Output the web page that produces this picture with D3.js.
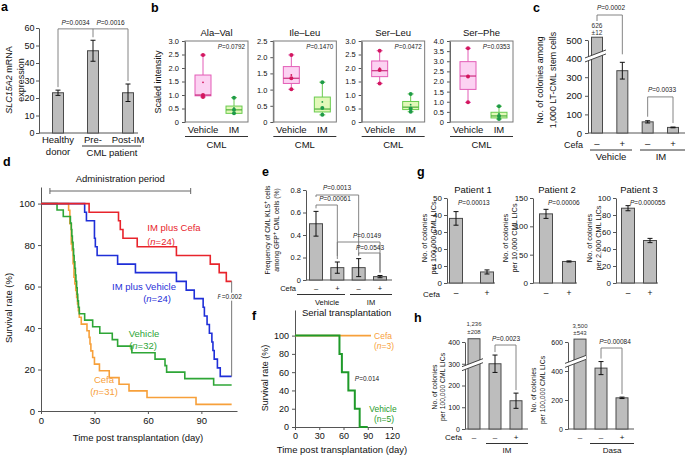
<!DOCTYPE html>
<html>
<head>
<meta charset="utf-8">
<script src="https://cdn.jsdelivr.net/npm/d3@7"></script>
<style>
  body { margin: 0; background: #fff; }
  svg { display: block; }
</style>
</head>
<body>
<div id="chart"></div>
<script>
/* a: SLC15A2 mRNA */
const A_MEAN = [23, 47, 23];
const A_ERR = [1.5, 6, 5];
const A_P = ["0.0034", "0.0016"];

/* b: dipeptide box plots  [min, q1, median, q3, max] */
const B_TITLES = ["Ala–Val", "Ile–Leu", "Ser–Leu", "Ser–Phe"];
const B_YMAX = [3, 2.5, 3, 4];
const B_P = ["0.0792", "0.1470", "0.0472", "0.0353"];
const B_VEH_BOX = [[0.93, 0.97, 1.0, 1.74, 2.48], [1.01, 1.19, 1.35, 1.71, 2.07], [1.43, 1.68, 1.9, 2.26, 2.64], [0.97, 1.61, 2.27, 2.98, 3.64]];
const B_IM_BOX = [[0.32, 0.32, 0.45, 0.59, 0.9], [0.22, 0.31, 0.4, 0.77, 1.23], [0.38, 0.46, 0.55, 0.76, 1.04], [0.15, 0.2, 0.3, 0.48, 0.78]];
const B_VEH_PTS = [[2.48, 1.0, 0.93], [2.07, 1.35, 1.01], [2.64, 1.93, 1.43], [3.64, 2.25, 0.97]];
const B_IM_PTS = [[0.9, 0.45, 0.32], [1.23, 0.43, 0.22], [1.04, 0.5, 0.38], [0.78, 0.3, 0.15]];
const B_VEH_MEAN = [1.47, 1.45, 1.99, 2.29];
const B_IM_MEAN = [0.52, 0.62, 0.64, 0.41];

/* c: colonies among LT-CML stem cells */
const C_MEAN = [626, 335, 60, 30];
const C_ERR = [12, 45, 6, 2];
const C_CEFA = ["–", "+", "–", "+"];
const C_P = ["0.0002", "0.0033"];

/* d: survival (day, %) */
const D_IM_CEFA = [[0, 100], [27, 95.8], [43.5, 91.7], [44.5, 87.5], [46, 83.3], [54, 79.2], [76, 75], [95, 70.8], [100, 66.7], [104, 62.5], [107, 62.5]];
const D_IM_VEH = [[0, 100], [24.5, 95.8], [25.5, 91.7], [30, 83.3], [30.5, 79.2], [31.5, 75], [43, 70.8], [53, 66.7], [76, 62.5], [81.5, 58.3], [86, 54.2], [91, 50], [91.7, 45.8], [93.2, 41.7], [94.5, 37.5], [95.9, 33.3], [96.5, 29.2], [97.2, 25], [99, 20.8], [100.6, 16.7], [107, 16.7]];
const D_VEH = [[0, 100], [9, 96.9], [12.5, 93.8], [16.5, 90.6], [17, 87.5], [17.3, 84.4], [17.6, 81.3], [18, 78.1], [18.3, 75], [18.6, 71.9], [19, 68.8], [19.3, 65.6], [19.6, 62.5], [20, 59.4], [20.3, 56.3], [20.6, 53.1], [21, 50], [21.5, 46.9], [24.5, 43.8], [29, 40.6], [33, 37.5], [40, 34.4], [43, 31.3], [51, 28.1], [64, 25], [69.6, 21.9], [70.5, 18.75], [80.7, 15.6], [96.9, 12.5], [107, 12.5]];
const D_CEFA = [[0, 100], [15.5, 96.8], [16.2, 90.3], [17, 80.6], [17.5, 77.4], [18, 71], [18.5, 64.5], [19, 61.3], [19.5, 58.1], [20, 54.8], [20.5, 51.6], [21, 48.4], [21.5, 45.2], [22.6, 41.9], [25.8, 38.7], [27, 35.5], [27.5, 32.3], [28, 29], [29, 25.8], [30, 22.6], [32.8, 19.4], [38.3, 16.1], [43.8, 12.9], [49.4, 9.7], [59.5, 6.5], [87, 3.2], [107, 3.2]];
const D_ADMIN = [5, 84];

/* e: KLS+ frequency */
const E_MEAN = [0.5, 0.11, 0.11, 0.03];
const E_ERR = [0.11, 0.05, 0.08, 0.01];
const E_CEFA = ["–", "+", "–", "+"];
const E_P = ["0.0013", "0.00061", "0.0149", "0.0543"];

/* f: serial transplantation */
const F_CEFA = [[0, 100], [94, 100]];
const F_VEH = [[0, 100], [55, 80], [58, 60], [66, 40], [74, 20], [80, 0], [90, 0]];

/* g: patients */
const G_TITLES = ["Patient 1", "Patient 2", "Patient 3"];
const G_MEAN = [[38, 6.5], [122, 38], [88, 50]];
const G_ERR = [[4, 1.2], [8, 1], [3, 2.5]];
const G_YMAX = [50, 150, 100];
const G_STEP = [10, 50, 20];
const G_P = ["0.00013", "0.00006", "0.000055"];
const G_YLAB = ["per 100,000 CML LICs", "per 10,000 CML LICs", "per 2,000 CML LICs"];

/* h: IM / Dasa */
const H_IM_MEAN = [1236, 300, 130];
const H_IM_ERR = [208, 40, 35];
const H_DASA_MEAN = [3500, 420, 215];
const H_DASA_ERR = [543, 45, 5];
const H_CEFA = ["–", "–", "+"];
const H_P = ["0.0023", "0.00084"];

const FONT = "'Liberation Sans', Arial, Helvetica, sans-serif";
const BAR = "#bdbdbd", EDGE = "#4a4a4a", AXC = "#555", BRK = "#777";
const VEH_C = { fill: "#fcd2f2", stroke: "#e35db7", line: "#cc2f7f", pt: "#d3175e" };
const IM_C = { fill: "#e2f8b9", stroke: "#6acb4f", line: "#4caf3a", pt: "#1e9a48" };

const svg = d3.select("#chart").append("svg")
  .attr("width", 685).attr("height", 456).attr("font-family", FONT);

function txt(x, y, s, size, o = {}) {
  const t = svg.append("text").attr("x", x).attr("y", y).attr("font-size", size)
    .attr("text-anchor", o.anchor || "middle").attr("fill", o.fill || "#111").text(s);
  if (o.bold) t.attr("font-weight", "bold");
  if (o.italic) t.attr("font-style", "italic");
  if (o.rot) t.attr("transform", `rotate(-90,${x},${y})`);
  return t;
}
function pTxt(x, y, val, size, anchor) {
  const t = svg.append("text").attr("x", x).attr("y", y).attr("font-size", size)
    .attr("text-anchor", anchor || "middle").attr("fill", "#222");
  t.append("tspan").attr("font-style", "italic").text("P");
  t.append("tspan").text("=" + val);
  return t;
}
function nTxt(x, y, n, size, fill) {
  const t = svg.append("text").attr("x", x).attr("y", y).attr("font-size", size)
    .attr("text-anchor", "middle").attr("fill", fill);
  t.append("tspan").text("(");
  t.append("tspan").attr("font-style", "italic").text("n");
  t.append("tspan").text("=" + n + ")");
}
function label(x, y, s) { txt(x, y, s, 12.5, { anchor: "start", bold: true, fill: "#000" }); }
function axisL(x, scale, vals, size, fmt, pad) {
  const g = svg.append("g").attr("transform", `translate(${x},0)`)
    .call(d3.axisLeft(scale).tickValues(vals).tickSize(3).tickSizeOuter(0)
      .tickPadding(pad == null ? 3 : pad).tickFormat(fmt || (d => d)));
  g.attr("font-family", FONT).attr("font-size", size);
  g.selectAll("text").attr("fill", "#111");
  g.selectAll("path, line").attr("stroke", AXC);
  return g;
}
function axisB(y, scale, vals, size) {
  const g = svg.append("g").attr("transform", `translate(0,${y})`)
    .call(d3.axisBottom(scale).tickValues(vals).tickSize(3).tickSizeOuter(0));
  g.attr("font-family", FONT).attr("font-size", size);
  g.selectAll("text").attr("fill", "#111");
  g.selectAll("path, line").attr("stroke", AXC);
  return g;
}
function seg(x1, y1, x2, y2, c, w) {
  svg.append("line").attr("x1", x1).attr("y1", y1).attr("x2", x2).attr("y2", y2)
    .attr("stroke", c || AXC).attr("stroke-width", w || 1);
}
function bars(xs, y, means, errs, w, clampAt) {
  means.forEach((m, i) => {
    const top = y(clampAt != null ? Math.min(m, clampAt) : m);
    svg.append("rect").attr("x", xs(i) - w / 2).attr("y", top).attr("width", w)
      .attr("height", y(0) - top).attr("fill", BAR).attr("stroke", EDGE).attr("stroke-width", 1);
    if (clampAt != null && m > clampAt) return;
    const e = errs[i], cx = xs(i);
    seg(cx, y(m - e), cx, y(m + e), "#111", 1);
    seg(cx - 2.5, y(m - e), cx + 2.5, y(m - e), "#111", 1);
    seg(cx - 2.5, y(m + e), cx + 2.5, y(m + e), "#111", 1);
  });
}
function bracket(x1, x2, yTop, y1End, y2End) {
  svg.append("path").attr("d", `M${x1},${y1End}V${yTop}H${x2}V${y2End}`)
    .attr("fill", "none").attr("stroke", BRK).attr("stroke-width", 0.9);
}
function breakMark(x0, x1, yc) {
  svg.append("path").attr("d", `M${x0},${yc + 4}L${x1},${yc - 4}L${x1},${yc}L${x0},${yc + 8}Z`)
    .attr("fill", "#fff");
  seg(x0, yc + 4, x1, yc - 4, "#333", 0.9);
  seg(x0, yc + 8, x1, yc, "#333", 0.9);
}
function cefaRow(xs, marks, y, size) {
  marks.forEach((s, i) => txt(xs(i), y, s, size));
}

/* ---------------- a ---------------- */
label(1, 11, "a");
{
  const y = d3.scaleLinear().domain([0, 60]).range([133, 28]);
  const x = d3.scalePoint().domain(d3.range(3)).range([58, 128]);
  axisL(39, y, d3.range(0, 61, 10), 9, null, 1.5);
  seg(39, 133, 138, 133, AXC);
  bars(x, y, A_MEAN, A_ERR, 11);
  const top = y(59.5);
  bracket(x(0), x(1), top, y(A_MEAN[0] + A_ERR[0]) - 3, y(A_MEAN[1] + A_ERR[1]) - 3);
  bracket(x(1), x(2), top, top, y(A_MEAN[2] + A_ERR[2]) - 3);
  pTxt((x(0) + x(1)) / 2, top - 4, A_P[0], 6.5);
  pTxt((x(1) + x(2)) / 2, top - 4, A_P[1], 6.5);
  txt(x(0), 143, "Healthy", 9.5); txt(x(0), 155, "donor", 9.5);
  txt(x(1), 143, "Pre-", 9.5); txt(x(2), 143, "Post-IM", 9.5);
  seg(82, 146, 141, 146, "#333");
  txt(112, 156, "CML patient", 9.5);
  const yl = svg.append("text").attr("x", 11.5).attr("y", 80).attr("font-size", 9)
    .attr("text-anchor", "middle").attr("transform", "rotate(-90,11.5,80)").attr("fill", "#111");
  yl.append("tspan").attr("font-style", "italic").text("SLC15A2");
  yl.append("tspan").text(" mRNA");
  txt(23.5, 80, "expression", 9, { rot: true });
}

/* ---------------- b ---------------- */
label(151, 12, "b");
{
  const left = d3.scalePoint().domain(d3.range(4)).range([185, 450]);
  const fw = 63;
  txt(161, 82, "Scaled intensity", 9, { rot: true });
  B_TITLES.forEach((title, i) => {
    const fx = left(i);
    const y = d3.scaleLinear().domain([0, B_YMAX[i]]).range([122, 41]);
    const gx = d3.scalePoint().domain(["Vehicle", "IM"]).range([fx + 18, fx + 49]);
    axisL(fx, y, d3.range(0, B_YMAX[i] + 0.01, 0.5), 7.5, d => d === 0 ? "0" : d.toFixed(1));
    svg.append("rect").attr("x", fx).attr("y", 41).attr("width", fw).attr("height", 81)
      .attr("fill", "none").attr("stroke", "#7a7a7a").attr("stroke-width", 1);
    [["Vehicle", B_VEH_BOX[i], B_VEH_PTS[i], B_VEH_MEAN[i], VEH_C],
     ["IM", B_IM_BOX[i], B_IM_PTS[i], B_IM_MEAN[i], IM_C]].forEach(([k, box, pts, mean, c]) => {
      const cx = gx(k), bw = 16;
      const [mn, q1, md, q3, mx] = box;
      seg(cx, y(mn), cx, y(mx), c.stroke, 1);
      seg(cx - 3, y(mx), cx + 3, y(mx), c.stroke, 1);
      seg(cx - 3, y(mn), cx + 3, y(mn), c.stroke, 1);
      svg.append("rect").attr("x", cx - bw / 2).attr("y", y(q3)).attr("width", bw)
        .attr("height", Math.max(1, y(q1) - y(q3))).attr("fill", c.fill).attr("stroke", c.stroke).attr("stroke-width", 1);
      seg(cx - bw / 2, y(md), cx + bw / 2, y(md), c.line, 1.2);
      pts.forEach(v => svg.append("circle").attr("cx", cx).attr("cy", y(v)).attr("r", 2).attr("fill", c.pt));
      svg.append("circle").attr("cx", cx).attr("cy", y(mean)).attr("r", 0.9).attr("fill", c.pt);
    });
    txt(fx + fw / 2, 36, title, 9.5);
    pTxt(fx + fw - 3, 49, B_P[i], 6.3, "end");
    txt(gx("Vehicle"), 133, "Vehicle", 9.5);
    txt(gx("IM"), 133, "IM", 9.5);
    seg(fx, 136.5, fx + fw, 136.5, "#333");
    txt(fx + fw / 2, 148, "CML", 9.5);
  });
}

/* ---------------- c ---------------- */
label(533, 12, "c");
{
  const y = d3.scaleLinear().domain([0, 500]).range([133, 40]);
  const x = d3.scalePoint().domain(d3.range(4)).range([597, 673]);
  axisL(588, y, d3.range(0, 501, 100), 9.5);
  seg(588, 133, 685, 133, AXC);
  bars(x, y, C_MEAN, C_ERR, 11, 515);
  breakMark(585, 606, y(425));
  txt(x(0), 28, String(C_MEAN[0]), 6.5, { fill: "#333" });
  txt(x(0), 35, "±" + C_ERR[0], 6.5, { fill: "#333" });
  bracket(x(0), x(1), 15, 21, y(C_MEAN[1] + C_ERR[1]) - 8);
  pTxt(611, 10, C_P[0], 6.5);
  bracket(x(2), x(3), y(194), y(C_MEAN[2] + C_ERR[2]) - 4, y(C_MEAN[3] + C_ERR[3]) - 4);
  pTxt(662, y(194) - 5, C_P[1], 6.5);
  txt(583, 147.5, "Cefa", 9, { anchor: "end" });
  cefaRow(x, C_CEFA, 147, 9.5);
  seg(590, 150, 632, 150, "#333");
  seg(640, 150, 685, 150, "#333");
  txt(611, 160, "Vehicle", 9.5);
  txt(661, 160, "IM", 9.5);
  txt(543, 80, "No. of colonies among", 8.8, { rot: true });
  txt(556, 80, "1,000 LT-CML stem cells", 8.8, { rot: true });
}

/* ---------------- d ---------------- */
label(3, 166, "d");
{
  const x = d3.scaleLinear().domain([0, 110]).range([41, 237]);
  const y = d3.scaleLinear().domain([0, 108]).range([411, 187]);
  axisL(41, y, d3.range(0, 101, 20), 9.5);
  axisB(411, x, [0, 30, 60, 90], 9.5);
  const line = d3.line().x(d => x(d[0])).y(d => y(d[1])).curve(d3.curveStepAfter);
  [[D_CEFA, "#f7a03a"], [D_VEH, "#2ea637"], [D_IM_VEH, "#1f2fd8"], [D_IM_CEFA, "#e8242c"]].forEach(([data, c]) => {
    svg.append("path").datum(data).attr("d", line).attr("fill", "none")
      .attr("stroke", c).attr("stroke-width", 1.6);
  });
  // administration period
  seg(x(D_ADMIN[0]), 191, x(D_ADMIN[1]), 191, "#666");
  seg(x(D_ADMIN[0]), 188, x(D_ADMIN[0]), 194, "#666");
  seg(x(D_ADMIN[1]), 188, x(D_ADMIN[1]), 194, "#666");
  txt(x((D_ADMIN[0] + D_ADMIN[1]) / 2), 182, "Administration period", 9.5);
  // P line
  seg(x(107), y(62.5), x(107), y(16.7), "#666", 0.9);
  pTxt(x(107) - 2, 299, "0.002", 6.5).attr("stroke", "#fff").attr("stroke-width", 3)
    .attr("paint-order", "stroke");
  txt(174, 231, "IM plus Cefa", 9.5, { fill: "#e8242c" }); nTxt(161, 245, 24, 9.5, "#e8242c");
  txt(144, 290, "IM plus Vehicle", 9.5, { fill: "#1f2fd8" }); nTxt(157, 302, 24, 9.5, "#1f2fd8");
  txt(144, 337, "Vehicle", 9.5, { fill: "#2ea637" }); nTxt(143, 349, 32, 9.5, "#2ea637");
  txt(104, 383, "Cefa", 9.5, { fill: "#f7a03a" }); nTxt(104, 395, 31, 9.5, "#f7a03a");
  txt(12, 308, "Survival rate (%)", 9.5, { rot: true });
  txt(138, 441, "Time post transplantation (day)", 9.5);
}

/* ---------------- e ---------------- */
label(262, 176, "e");
{
  const y = d3.scaleLinear().domain([0, 0.8]).range([280, 190]);
  const x = d3.scalePoint().domain(d3.range(4)).range([316, 380]);
  axisL(306, y, [0, 0.2, 0.4, 0.6, 0.8], 7.5, d => d === 0 ? "0" : d.toFixed(1), 2);
  seg(306, 280, 392, 280, AXC);
  bars(x, y, E_MEAN, E_ERR, 13);
  const top = i => y(E_MEAN[i] + E_ERR[i]) - 3;
  bracket(x(0), x(2), 195, 197, top(2));
  pTxt(337, 190, E_P[0], 6.5);
  bracket(x(0), x(1), 205, top(0), top(1));
  pTxt(335, 201, E_P[1], 6.5);
  bracket(x(1), x(3), 242, top(1) - 3, top(3));
  pTxt(367, 238, E_P[2], 6.5);
  bracket(x(2), x(3), 253, 255.5, top(3));
  pTxt(370, 250, E_P[3], 6.5);
  txt(296, 291, "Cefa", 7.5, { anchor: "end" });
  cefaRow(x, E_CEFA, 291, 7.5);
  seg(297, 294.5, 345, 294.5, "#333");
  seg(350, 294.5, 392, 294.5, "#333");
  txt(327, 305, "Vehicle", 7.5);
  txt(371, 305, "IM", 7.5);
  const l1 = svg.append("text").attr("x", 270).attr("y", 230).attr("font-size", 6.8)
    .attr("text-anchor", "middle").attr("transform", "rotate(-90,270,230)").attr("fill", "#111");
  l1.append("tspan").text("Frequency of CML KLS");
  l1.append("tspan").attr("baseline-shift", "super").attr("font-size", 5).text("+");
  l1.append("tspan").text(" cells");
  const l2 = svg.append("text").attr("x", 278.5).attr("y", 230).attr("font-size", 6.8)
    .attr("text-anchor", "middle").attr("transform", "rotate(-90,278.5,230)").attr("fill", "#111");
  l2.append("tspan").text("among GFP");
  l2.append("tspan").attr("baseline-shift", "super").attr("font-size", 5).text("+");
  l2.append("tspan").text(" CML cells (%)");
}

/* ---------------- f ---------------- */
label(252, 320, "f");
{
  const x = d3.scaleLinear().domain([0, 120]).range([295, 392]);
  const y = d3.scaleLinear().domain([0, 128]).range([427, 310]);
  axisL(295, y, d3.range(0, 101, 20), 9);
  axisB(427, x, d3.range(0, 121, 30), 9);
  const line = d3.line().x(d => x(d[0])).y(d => y(d[1])).curve(d3.curveStepAfter);
  svg.append("path").datum(F_CEFA).attr("d", line).attr("fill", "none").attr("stroke", "#f7a03a").attr("stroke-width", 1.8);
  svg.append("path").datum(F_VEH).attr("d", line).attr("fill", "none").attr("stroke", "#1f9a2a").attr("stroke-width", 2);
  txt(302, 316, "Serial transplantation", 9.5, { anchor: "start" });
  txt(383, 339, "Cefa", 8.5, { fill: "#f7a03a" }); nTxt(384, 349, 3, 8.5, "#f7a03a");
  pTxt(367, 381, "0.014", 6.5);
  txt(383, 412, "Vehicle", 8.5, { fill: "#1f9a2a" });
  txt(384, 422, "(n=5)", 8.5, { fill: "#1f9a2a" });
  txt(268, 378, "Survival rate (%)", 9, { rot: true });
  txt(342, 453, "Time post transplantation (day)", 9.5);
}

/* ---------------- g ---------------- */
label(417, 176, "g");
{
  const axX = [447, 533, 616];
  const barR = [[456, 487], [546, 569], [628, 650]];
  const labOff = [[-20, -11.5], [-25, -16.5], [-24, -15.5]];
  G_TITLES.forEach((t, i) => {
    const y = d3.scaleLinear().domain([0, G_YMAX[i]]).range([283, 198]);
    const x = d3.scalePoint().domain([0, 1]).range(barR[i]);
    axisL(axX[i], y, d3.range(0, G_YMAX[i] + 1, G_STEP[i]), 8, null, 2);
    seg(axX[i], 283, barR[i][1] + 8, 283, AXC);
    bars(x, y, G_MEAN[i], G_ERR[i], 13);
    txt((axX[i] + barR[i][1] + 8) / 2 + 2, 193, t, 9.5);
    pTxt(barR[i][0] + 2, 205, G_P[i], 6.5, "start");
    cefaRow(x, ["–", "+"], 296, 8.5);
    txt(axX[i] + labOff[i][0], 238, "No. of colonies", 7.3, { rot: true });
    txt(axX[i] + labOff[i][1], 238, G_YLAB[i], 7.3, { rot: true });
  });
  txt(440, 297, "Cefa", 8, { anchor: "end" });
}

/* ---------------- h ---------------- */
label(414, 322, "h");
{
  // IM subpanel
  const y1 = d3.scaleLinear().domain([0, 400]).range([429, 342]);
  const x1 = d3.scalePoint().domain(d3.range(3)).range([474, 516]);
  axisL(465, y1, d3.range(0, 401, 100), 7, null, 2);
  seg(465, 429, 528, 429, AXC);
  bars(x1, y1, H_IM_MEAN, H_IM_ERR, 12, 415);
  breakMark(462, 483, y1(305));
  txt(x1(0), 326, d3.format(",")(H_IM_MEAN[0]), 6, { fill: "#333" });
  txt(x1(0), 334, "±" + H_IM_ERR[0], 6, { fill: "#333" });
  bracket(x1(1), x1(2), 345, y1(H_IM_MEAN[1] + H_IM_ERR[1]) - 3, y1(H_IM_MEAN[2] + H_IM_ERR[2]) - 3);
  pTxt(506, 341, H_P[0], 6.5);
  txt(462, 440, "Cefa", 8, { anchor: "end" });
  cefaRow(x1, H_CEFA, 440, 8);
  seg(486, 443.5, 528, 443.5, "#333");
  txt(507, 453, "IM", 8);
  txt(437, 387, "No. of colonies", 6.8, { rot: true });
  txt(445, 387, "per 100,000 CML LICs", 6.8, { rot: true });

  // Dasa subpanel
  const y2 = d3.scaleLinear().domain([0, 600]).range([429, 342]);
  const x2 = d3.scalePoint().domain(d3.range(3)).range([580, 622]);
  axisL(568, y2, d3.range(0, 601, 200), 7, null, 2);
  seg(568, 429, 634, 429, AXC);
  bars(x2, y2, H_DASA_MEAN, H_DASA_ERR, 12, 620);
  breakMark(565, 586, y2(480));
  txt(x2(0), 328, d3.format(",")(H_DASA_MEAN[0]), 6, { fill: "#333" });
  txt(x2(0), 335, "±" + H_DASA_ERR[0], 6, { fill: "#333" });
  bracket(x2(1), x2(2), 348, y2(H_DASA_MEAN[1] + H_DASA_ERR[1]) - 3, y2(H_DASA_MEAN[2] + H_DASA_ERR[2]) - 3);
  pTxt(615, 344, H_P[1], 6.5);
  cefaRow(x2, H_CEFA, 440, 8);
  seg(590, 443.5, 634, 443.5, "#333");
  txt(612, 453, "Dasa", 8);
  txt(536, 390, "No. of colonies", 6.8, { rot: true });
  txt(545, 390, "per 100,000 CML LICs", 6.8, { rot: true });
}
</script>
</body>
</html>
